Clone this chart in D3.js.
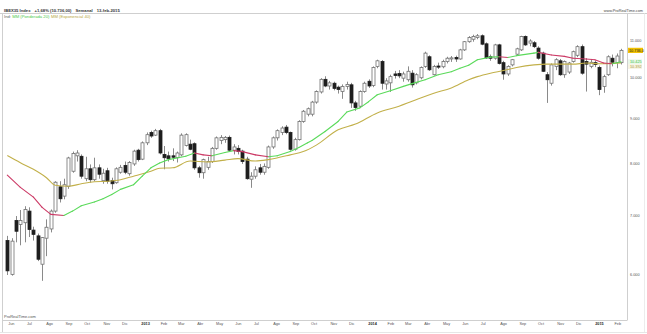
<!DOCTYPE html>
<html><head><meta charset="utf-8">
<script src="https://cdn.jsdelivr.net/npm/d3@7"></script>
<style>body{margin:0;background:#fff}svg{display:block;font-family:"Liberation Sans",Arial,sans-serif}</style>
</head><body><svg id="c" width="647" height="334"></svg>
<script>
// ---- data ----
const firstWeek = "2012-06-01";  // weekly candles, one per Friday
const lastWeek = "2015-02-13";
// [open, high, low, close]
const ohlc = [
[6560,6640,6000,6065],[6010,6600,5990,6550],[6910,6990,6530,6720],[6840,7100,6480,6910],[6870,7170,6530,7110],
[7080,7150,6620,6750],[6740,6800,6560,6666],[6640,6680,6220,6250],[6170,6620,5910,6610],[6600,6930,6300,6790],
[6760,7110,6700,7080],[7080,7650,7050,7630],[7540,7650,7240,7310],[7360,7700,7300,7580],[7550,8150,7500,8125],
[7850,8260,7820,8220],[8170,8290,8050,8230],[8160,8200,7700,7750],[7700,8150,7650,7900],[7900,7990,7620,7680],
[7680,8130,7650,7920],[7920,7990,7700,7790],[7660,7900,7600,7810],[7860,7920,7600,7650],[7660,7720,7490,7600],
[7620,7930,7600,7900],[7830,7980,7800,7930],[7970,8050,7790,7830],[7800,8060,7760,8030],[8000,8300,7960,8270],
[8290,8320,8050,8090],[8100,8480,8080,8450],[8450,8680,8400,8630],[8680,8720,8560,8600],[8620,8760,8600,8720],
[8720,8760,8200,8230],[8200,8380,7890,8130],[8170,8260,8050,8110],[8170,8330,8060,8140],[8130,8260,8030,8230],
[8190,8660,8160,8620],[8390,8660,8370,8630],[8420,8520,8290,8310],[8430,8460,7880,7920],[7920,7960,7720,7820],
[7820,8110,7700,8090],[7930,8150,7880,8050],[8050,8360,8020,8330],[8330,8590,8300,8560],[8500,8620,8420,8570],
[8520,8600,8450,8570],[8570,8610,8270,8290],[8290,8420,8200,8360],[8330,8400,8200,8260],[8270,8300,8000,8050],
[8100,8150,7680,7700],[7690,7830,7520,7750],[7750,7950,7700,7880],[7920,8000,7780,7830],[7830,8010,7780,7950],
[7930,8390,7900,8360],[8360,8590,8320,8560],[8560,8750,8500,8720],[8680,8820,8620,8780],[8800,8850,8640,8680],
[8680,8700,8280,8310],[8310,8560,8280,8520],[8520,8960,8500,8930],[8930,9200,8900,9170],[9100,9260,9050,9230],
[9100,9420,9050,9390],[9390,9680,9350,9650],[9640,9990,9600,9960],[9960,10040,9760,9790],[9790,9920,9700,9870],
[9860,9900,9680,9730],[9760,9800,9600,9700],[9650,9830,9470,9780],[9780,9900,9700,9830],[9820,9870,9250,9370],
[9370,9420,9180,9260],[9290,9680,9250,9650],[9650,9900,9620,9860],[9910,9960,9740,9790],[9800,10300,9760,10270],
[10300,10480,10250,10450],[10430,10470,9700,9860],[9840,9990,9700,9920],[9870,10080,9640,10030],[10100,10180,9980,10060],
[10110,10200,9990,10050],[9990,10160,9900,10100],[9950,10300,9900,10170],[10120,10200,9750,9820],[9870,10120,9830,10080],
[10000,10300,9960,10270],[10300,10700,10260,10660],[10560,10600,10180,10210],[10080,10340,10060,10300],[10310,10400,10230,10280],
[10290,10480,10250,10430],[10430,10560,10380,10520],[10500,10580,10420,10530],[10540,10590,10420,10500],[10500,10780,10480,10750],
[10750,11000,10720,10980],[10980,11140,10950,11100],[11050,11180,10980,11130],[11100,11200,11050,11150],[11150,11190,10880,10910],
[10920,10960,10500,10530],[10560,10620,10450,10520],[10520,10920,10480,10890],[10890,10920,10350,10380],[10400,10450,9950,10100],
[10100,10330,10050,10300],[10340,10500,10300,10480],[10630,10810,10600,10780],[10750,11150,10720,11130],[11130,11160,10860,10890],
[10940,11050,10850,11000],[10950,11000,10800,10840],[10800,10850,10480,10520],[10660,10700,10150,10170],[10080,10150,9370,9950],
[9860,10380,9800,10340],[10300,10520,10200,10480],[10450,10500,10050,10080],[10080,10460,10000,10430],[10150,10420,10100,10390],
[10430,10730,10400,10700],[10600,10880,10550,10840],[10840,10900,10080,10120],[10430,10520,9650,10360],[10300,10500,10250,10410],
[10400,10460,10280,10350],[10270,10320,9560,9700],[9780,10080,9620,10030],[10080,10600,10050,10560],[10520,10620,10300,10410],
[10400,10650,10250,10580],[10400,10780,10350,10736]
];
// Weighted MA 20, by week index
const wmaWeeks  = [0,3,6,8,10,13,15,17,20,22,24,26,29,31,33,35,37,41,43,45,47,50,52,54,57,60,62,65,67,69,70,73,76,78,81,83,85,88,91,93,96,99,102,104,106,108,111,113,115,117,121,122,125,128,130,133,135,137,139,141];
const wmaValues = [7770,7530,7340,7150,7020,7000,7080,7180,7250,7310,7390,7490,7580,7750,7920,8020,8090,8160,8230,8190,8170,8240,8280,8260,8190,8150,8170,8260,8350,8450,8500,8700,8930,9150,9250,9400,9570,9670,9780,9850,9950,10080,10160,10250,10330,10480,10550,10560,10540,10590,10660,10680,10610,10570,10520,10500,10480,10390,10370,10425];
// Exponential MA 40
const emaWeeks  = [0,3,6,9,11,14,17,20,23,26,29,33,35,38,42,46,50,53,57,60,65,68,71,76,80,85,90,93,98,102,106,108,111,114,117,121,124,127,130,133,136,139,141];
const emaValues = [8175,8025,7890,7720,7570,7550,7600,7640,7650,7680,7750,7850,7910,7920,8060,8040,8080,8110,8060,8090,8190,8260,8400,8740,8870,9130,9290,9410,9610,9740,9950,10030,10120,10190,10270,10340,10360,10360,10360,10390,10370,10380,10392];
const yTicks = [6000,7000,8000,9000,10000,11000];
const monthNames = ["Ene","Feb","Mar","Abr","May","Jun","Jul","Ago","Sep","Oct","Nov","Dic"];
const lastPrice = 10736, wmaLast = 10425, emaLast = 10392;

// ---- drawing ----
const W = 647, H = 334;
const plot = {left: 3, right: 627, top: 15, bottom: 320};
const svg = d3.select("#c");
const parse = d3.utcParse("%Y-%m-%d");
const weeks = d3.utcFriday.range(parse(firstWeek), d3.utcDay.offset(parse(lastWeek), 1));
const x = d3.scaleUtc().domain([weeks[0], weeks[weeks.length-1]]).range([7.3, 621]);
const y = d3.scaleLog().domain([6000, 11000]).range([275, 41]);
const es = d3.formatLocale({decimal: ",", thousands: ".", grouping: [3], currency: ["", "€"]});
const fmt0 = es.format(",d"), fmt1 = es.format(",.1f");

svg.append("rect").attr("width", W).attr("height", H).attr("fill", "#fff");
svg.append("defs").append("clipPath").attr("id", "clip").append("rect")
  .attr("x", plot.left).attr("y", plot.top).attr("width", plot.right - plot.left).attr("height", plot.bottom - plot.top);

// frame lines
const g = svg.append("g").attr("stroke", "#cfcfcf").attr("stroke-width", 1).attr("fill", "none");
g.append("line").attr("x1", 0).attr("x2", W).attr("y1", 13.5).attr("y2", 13.5);
g.append("line").attr("x1", 2.5).attr("x2", 2.5).attr("y1", 13.5).attr("y2", 332);
g.append("line").attr("x1", plot.right + .5).attr("x2", plot.right + .5).attr("y1", 13.5).attr("y2", plot.bottom);
g.append("line").attr("x1", 2.5).attr("x2", plot.right + .5).attr("y1", plot.bottom + .5).attr("y2", plot.bottom + .5);
g.append("line").attr("x1", 0).attr("x2", W).attr("y1", 332.5).attr("y2", 332.5).attr("stroke", "#e6e6e6");
g.append("line").attr("x1", 644.5).attr("x2", 644.5).attr("y1", 13.5).attr("y2", 332).attr("stroke", "#ececec");

// header
const hdr = svg.append("text").attr("x", 4).attr("y", 11.5).attr("font-size", 4.2).attr("fill", "#333").attr("font-weight", "bold");
hdr.append("tspan").text("IBEX35 Index");
hdr.append("tspan").attr("dx", 4).text("+1,68% (10.736,00)");
hdr.append("tspan").attr("dx", 4).text("Semanal");
hdr.append("tspan").attr("dx", 4).text("13-feb-2015");
const leg = svg.append("text").attr("x", 4).attr("y", 18.3).attr("font-size", 4.2);
leg.append("tspan").attr("fill", "#666").text("Ind: ");
leg.append("tspan").attr("fill", "#4cc94c").text("MM (Ponderada 20)");
leg.append("tspan").attr("dx", 1.5).attr("fill", "#b8a843").text("MM (Exponencial 40)");
svg.append("text").attr("x", 643).attr("y", 11.5).attr("text-anchor", "end").attr("font-size", 3.8).attr("fill", "#444").text("www.ProRealTime.com");
svg.append("text").attr("x", 4).attr("y", 317.5).attr("font-size", 4).attr("fill", "#555").text("ProRealTime.com");

// candles
const cg = svg.append("g").attr("clip-path", "url(#clip)");
const bw = 3;
const candles = cg.selectAll("g.c").data(ohlc).join("g").attr("class", "c");
candles.append("line")
  .attr("x1", (d, i) => Math.round(x(weeks[i])) + .5).attr("x2", (d, i) => Math.round(x(weeks[i])) + .5)
  .attr("y1", d => y(d[1])).attr("y2", d => y(d[2])).attr("stroke", "#8a8a8a").attr("stroke-width", 1);
candles.append("rect")
  .attr("x", (d, i) => Math.round(x(weeks[i])) - 1)
  .attr("y", d => y(Math.max(d[0], d[3])))
  .attr("width", bw)
  .attr("height", d => Math.max(1, y(Math.min(d[0], d[3])) - y(Math.max(d[0], d[3]))))
  .attr("fill", d => d[3] >= d[0] ? "#fff" : "#1e1e1e")
  .attr("stroke", d => d[3] >= d[0] ? "#707070" : "#1e1e1e")
  .attr("stroke-width", .8);

// moving averages
const emaPts = emaWeeks.map((w, i) => [x(weeks[w]), y(emaValues[i])]);
cg.append("path").attr("d", d3.line().curve(d3.curveMonotoneX)(emaPts))
  .attr("fill", "none").attr("stroke", "#c2b04a").attr("stroke-width", 1.1);
const wmaPts = wmaWeeks.map((w, i) => [x(weeks[w]), y(wmaValues[i])]);
for (let i = 0; i < wmaPts.length - 1; i++) {
  const up = wmaValues[i + 1] >= wmaValues[i];
  cg.append("path").attr("d", d3.line()([wmaPts[i], wmaPts[i + 1]]))
    .attr("fill", "none").attr("stroke", up ? "#5ada5a" : "#cc3a66").attr("stroke-width", 1.1)
    .attr("stroke-linecap", "round");
}

// y axis labels
const ya = svg.append("g").attr("font-size", 3.8).attr("fill", "#555");
ya.selectAll("text").data(yTicks).join("text")
  .attr("x", 630).attr("y", d => y(d) + 1.4).text(d => fmt0(d));
// value tags
const tagY = y(lastPrice);
svg.append("rect").attr("x", 628).attr("y", tagY - 2.6).attr("width", 15).attr("height", 5.2).attr("fill", "#f2c200");
svg.append("text").attr("x", 629).attr("y", tagY + 1.4).attr("font-size", 3.8).attr("fill", "#222").text(fmt1(lastPrice));
const gY = y(wmaLast);
const oY = Math.max(y(emaLast), gY + 4.8);
svg.append("rect").attr("x", 628).attr("y", gY - 2.4).attr("width", 14).attr("height", 4.8).attr("fill", "#eaf8ea");
svg.append("text").attr("x", 630).attr("y", gY + 1.4).attr("font-size", 3.8).attr("fill", "#3cbf3c").text(fmt0(wmaLast));
svg.append("rect").attr("x", 628).attr("y", oY - 2.4).attr("width", 14).attr("height", 4.8).attr("fill", "#f7f4e4");
svg.append("text").attr("x", 630).attr("y", oY + 1.4).attr("font-size", 3.8).attr("fill", "#a89a3a").text(fmt0(emaLast));

// x axis labels
const months = d3.utcMonth.range(d3.utcMonth.ceil(weeks[0]), d3.utcDay.offset(weeks[weeks.length-1], 1));
const xa = svg.append("g").attr("font-size", 3.8).attr("fill", "#555");
xa.selectAll("text").data(months).join("text")
  .attr("x", d => x(d) + 1).attr("y", 324.5)
  .attr("font-weight", d => d.getUTCMonth() === 0 ? "bold" : null)
  .attr("fill", d => d.getUTCMonth() === 0 ? "#222" : "#555")
  .text(d => d.getUTCMonth() === 0 ? d.getUTCFullYear() : monthNames[d.getUTCMonth()]);
</script></body></html>
